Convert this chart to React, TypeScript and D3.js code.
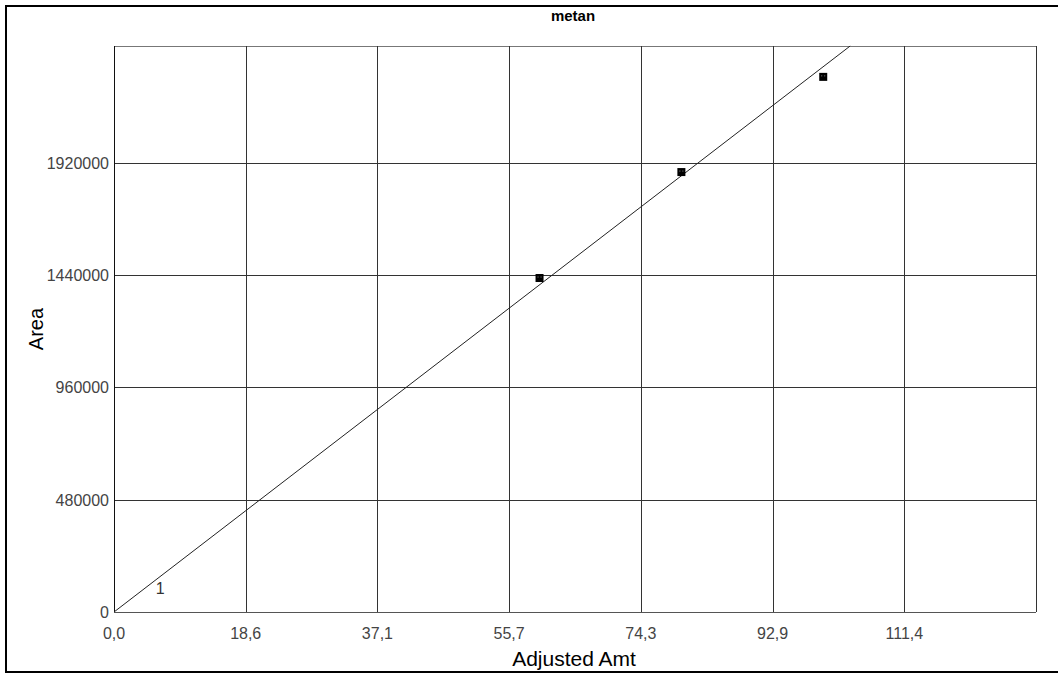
import React from "react";
import * as d3 from "d3";

const title = "metan";
const xLabel = "Adjusted Amt";
const yLabel = "Area";
const xTickValues = [0, 18.57, 37.14, 55.71, 74.29, 92.86, 111.43];
const xTickLabels = ["0,0", "18,6", "37,1", "55,7", "74,3", "92,9", "111,4"];
const xGridValues = [0, 18.57, 37.14, 55.71, 74.29, 92.86, 111.43, 130];
const yTickValues = [0, 480000, 960000, 1440000, 1920000];
const pointsX = [60, 80, 100];
const pointsY = [1428000, 1881000, 2288000];
const fitSlope = 23315;
const pointLabel = "1";

export default function App() {
  const W = 1058, H = 675;
  const left = 114, right = 1036, top = 46, bottom = 612;
  const yMax = 2420000;
  const x = d3.scaleLinear().domain([0, 130]).range([left, right]);
  const y = d3.scaleLinear().domain([0, yMax]).range([bottom, top]);
  const xEnd = yMax / fitSlope;
  const line = d3.line<[number, number]>().x(d => x(d[0])).y(d => y(d[1]));
  const font = "Arial, 'Liberation Sans', sans-serif";
  return (
    <svg width={W} height={H} style={{ position: "absolute", left: 0, top: 0, background: "#fff" }} fontFamily={font}>
      <rect x={6} y={6} width={W + 10} height={666} fill="#fff" stroke="#000" strokeWidth={2} />
      <text x={573} y={21} textAnchor="middle" fontSize={15} fontWeight="bold" fill="#000">{title}</text>
      <line x1={left} x2={right} y1={top + 0.5} y2={top + 0.5} stroke="#777" strokeWidth={1.2} />
      {yTickValues.map((v, i) => (
        <line key={"h" + i} x1={left} x2={right} y1={Math.round(y(v)) + 0.5} y2={Math.round(y(v)) + 0.5}
          stroke={i === 0 ? "#555" : "#333"} strokeWidth={i === 0 ? 1.2 : 1} />
      ))}
      {xGridValues.map((v, i) => (
        <line key={"v" + i} x1={Math.round(x(v)) + 0.5} x2={Math.round(x(v)) + 0.5} y1={top} y2={bottom}
          stroke={i === 0 ? "#111" : "#333"} strokeWidth={1} />
      ))}
      <path d={line([[0, 0], [xEnd, yMax]]) || ""} stroke="#222" strokeWidth={1} fill="none" />
      {pointsX.map((px, i) => (
        <g key={"p" + i}>
          <rect x={x(px) - 4} y={y(pointsY[i]) - 4} width={8} height={8} fill="#000" />
          <rect x={x(px) - 2} y={y(pointsY[i]) - 1.5} width={1} height={1} fill="#888" />
          <rect x={x(px) + 1} y={y(pointsY[i]) - 1.5} width={1} height={1} fill="#888" />
        </g>
      ))}
      <text x={x(6.5)} y={y(85000) + 2} textAnchor="middle" fontSize={16} fill="#333">{pointLabel}</text>
      {yTickValues.map((v, i) => (
        <text key={"yt" + i} x={109} y={y(v) + 6} textAnchor="end" fontSize={16} fill="#444">{String(v)}</text>
      ))}
      {xTickValues.map((v, i) => (
        <text key={"xt" + i} x={x(v)} y={639} textAnchor="middle" fontSize={16} fill="#444">{xTickLabels[i]}</text>
      ))}
      <text x={574} y={666} textAnchor="middle" fontSize={21} fill="#000">{xLabel}</text>
      <text transform={`translate(43,329) rotate(-90)`} textAnchor="middle" fontSize={20} fill="#000">{yLabel}</text>
    </svg>
  );
}
